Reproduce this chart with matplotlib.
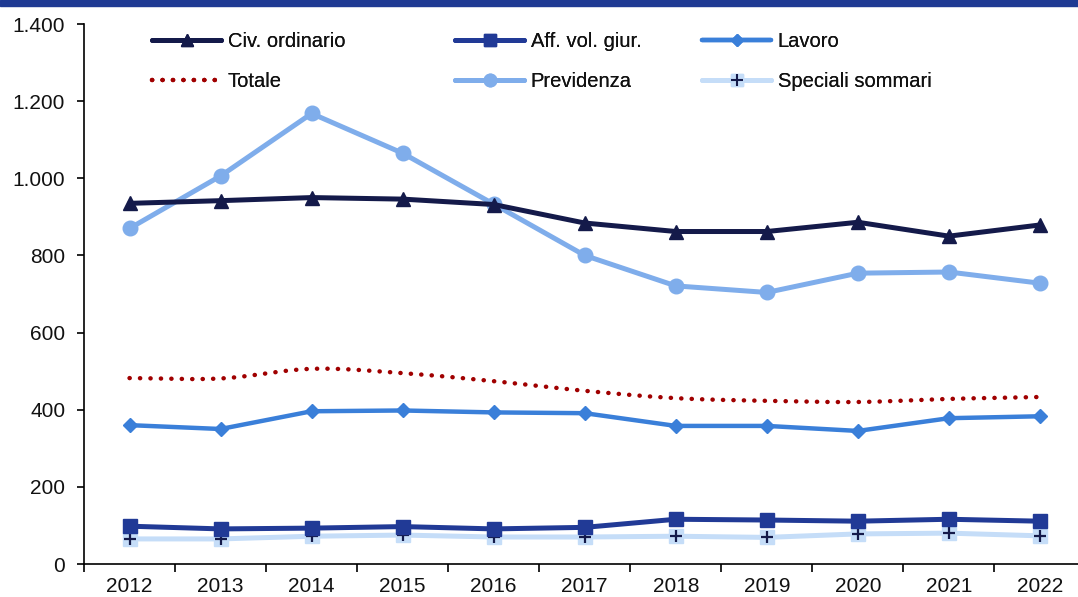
import numpy as np
import matplotlib
matplotlib.use("Agg")
import matplotlib.pyplot as plt
from matplotlib.lines import Line2D
from matplotlib.legend_handler import HandlerTuple
from matplotlib.ticker import FuncFormatter, FixedLocator

plt.rcParams['font.family'] = ['Liberation Sans', 'DejaVu Sans']

years = ["2012", "2013", "2014", "2015", "2016", "2017", "2018", "2019", "2020", "2021", "2022"]
civ_ordinario = [935, 942, 950, 946, 932, 884, 862, 862, 886, 850, 879]
aff_vol_giur = [98, 91, 93, 97, 91, 95, 116, 114, 111, 116, 111]
lavoro = [360, 350, 396, 398, 393, 391, 358, 358, 345, 378, 383]
totale = [482, 481, 506, 495, 474, 449, 430, 423, 420, 428, 433]
previdenza = [870, 1006, 1168, 1065, 933, 800, 721, 704, 754, 757, 728]
speciali_sommari = [65, 65, 72, 75, 70, 70, 72, 69, 78, 80, 73]

C_CIV = "#141a4a"
C_AFF = "#213a96"
C_LAV = "#3a7fd9"
C_TOT = "#a00000"
C_PREV = "#7fadeb"
C_SPEC = "#c5ddf8"
C_PLUS = "#141a4a"

fig = plt.figure(figsize=(10.78, 5.97), dpi=100)
# top band
fig.patches.append(plt.Rectangle((0, 1 - 6 / 597), 1, 6 / 597, transform=fig.transFigure,
                                 color="#1f3a93", zorder=0))
ax = fig.add_axes([84 / 1078, 1 - 564 / 597, 1001.5 / 1078, 540 / 597])

x = np.arange(len(years))


def catmull(xs, ys, n=30):
    xs = np.asarray(xs, float)
    ys = np.asarray(ys, float)
    P = np.column_stack([xs, ys])
    P = np.vstack([P[0] - (P[1] - P[0]), P, P[-1] + (P[-1] - P[-2])])
    out = []
    for i in range(1, len(P) - 2):
        p0, p1, p2, p3 = P[i - 1], P[i], P[i + 1], P[i + 2]
        t = np.linspace(0, 1, n, endpoint=(i == len(P) - 3))[:, None]
        seg = 0.5 * ((2 * p1) + (-p0 + p2) * t + (2 * p0 - 5 * p1 + 4 * p2 - p3) * t ** 2
                     + (-p0 + 3 * p1 - 3 * p2 + p3) * t ** 3)
        out.append(seg)
    out = np.vstack(out)
    return out[:, 0], out[:, 1]


lw = 3.6
# Speciali sommari
ax.plot(x, speciali_sommari, color=C_SPEC, lw=lw, marker="s", ms=10, mec=C_SPEC, mfc=C_SPEC,
        solid_capstyle="round", solid_joinstyle="round", zorder=3)
ax.plot(x, speciali_sommari, ls="none", marker="+", ms=9, mew=1.6, color=C_PLUS, zorder=4)
# Aff vol giur
ax.plot(x, aff_vol_giur, color=C_AFF, lw=lw, marker="s", ms=10, solid_capstyle="round",
        solid_joinstyle="round", zorder=5)
# Lavoro
ax.plot(x, lavoro, color=C_LAV, lw=3.2, marker="D", ms=7, solid_capstyle="round",
        solid_joinstyle="round", zorder=5)
# Totale (smoothed, dotted)
sx, sy = catmull(x, totale)
ax.plot(sx, sy, color=C_TOT, lw=3.2, ls=(0, (0.05, 2.3)), dash_capstyle="round", zorder=5)
# Previdenza
ax.plot(x, previdenza, color=C_PREV, lw=lw, marker="o", ms=10.5, solid_capstyle="round",
        solid_joinstyle="round", zorder=6)
# Civ ordinario
ax.plot(x, civ_ordinario, color=C_CIV, lw=lw, marker="^", ms=10.5, solid_capstyle="round",
        solid_joinstyle="round", zorder=7)

ax.set_xlim(-0.5, len(years) - 0.5)
ax.set_ylim(0, 1400)
ax.set_yticks(np.arange(0, 1401, 200))
ax.yaxis.set_major_formatter(FuncFormatter(lambda v, p: f"{int(v):,}".replace(",", ".")))
ax.set_xticks(x)
ax.set_xticklabels(years)
ax.xaxis.set_minor_locator(FixedLocator(np.arange(-0.5, len(years), 1.0)))
ax.tick_params(axis="x", which="major", length=0, pad=9, labelsize=15, labelcolor="#111111")
ax.tick_params(axis="x", which="minor", length=6, width=1.2, direction="out", color="#000000")
ax.tick_params(axis="y", length=5, width=1.2, direction="out", pad=8.5, labelsize=15,
               color="#000000", labelcolor="#111111")
for s in ["top", "right"]:
    ax.spines[s].set_visible(False)
for s in ["left", "bottom"]:
    ax.spines[s].set_linewidth(1.2)
    ax.spines[s].set_color("#000000")

# Legend handles
h_civ = Line2D([], [], color=C_CIV, lw=lw, marker="^", ms=9, solid_capstyle="round")
h_tot = Line2D([], [], color=C_TOT, lw=3.2, ls=(0, (0.05, 2.3)), dash_capstyle="round")
h_aff = Line2D([], [], color=C_AFF, lw=lw, marker="s", ms=9, solid_capstyle="round")
h_prev = Line2D([], [], color=C_PREV, lw=lw, marker="o", ms=9, solid_capstyle="round")
h_lav = Line2D([], [], color=C_LAV, lw=3.2, marker="D", ms=6, solid_capstyle="round")
h_spec1 = Line2D([], [], color=C_SPEC, lw=lw, marker="s", ms=9, solid_capstyle="round")
h_spec2 = Line2D([], [], ls="none", marker="+", ms=8, mew=1.5, color=C_PLUS)

groups = [
    ([h_civ, h_tot], ["Civ. ordinario", "Totale"], 152),
    ([h_aff, h_prev], ["Aff. vol. giur.", "Previdenza"], 455),
    ([h_lav, (h_spec1, h_spec2)], ["Lavoro", "Speciali sommari"], 702),
]
for handles, labels, px in groups:
    leg = fig.legend(handles, labels, loc="upper left",
                     bbox_to_anchor=(px / 1078, 1 - 32 / 597), frameon=False,
                     fontsize=14.5, handlelength=3.45, handletextpad=0.3, labelspacing=1.05,
                     borderpad=0, borderaxespad=0,
                     handler_map={tuple: HandlerTuple(ndivide=1)})
    for t in leg.get_texts():
        t.set_color("#111111")
    fig.add_artist(leg)

fig.savefig("out.png", dpi=100)
